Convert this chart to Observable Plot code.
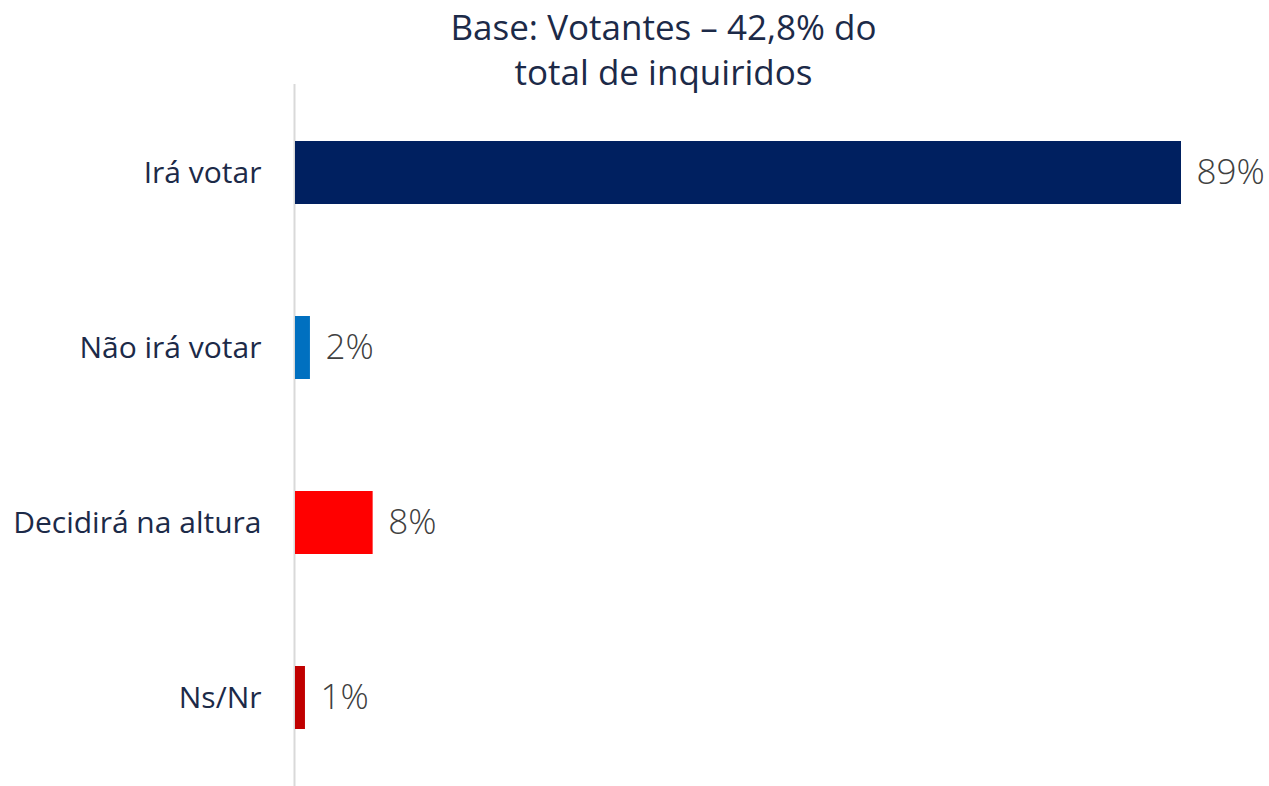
<!DOCTYPE html>
<html>
<head>
<meta charset="utf-8">
<script src="https://cdn.jsdelivr.net/npm/d3@7"></script>
<script src="https://cdn.jsdelivr.net/npm/@observablehq/plot@0.6"></script>
<style>
  html, body { margin: 0; padding: 0; background: #ffffff; }
  #wrap { width: 1269px; height: 786px; overflow: hidden; position: relative; }
  #title {
    height: 84px; width: 1269px; box-sizing: border-box; overflow: visible;
    font-family: "Open Sans", sans-serif; font-size: 35px; line-height: 45px;
    color: #1c2a48; text-align: center; padding-left: 58px; padding-top: 4px;
    position: relative; z-index: 1; white-space: nowrap;
  }
  #title span { display: block; height: 45px; }
  svg { display: block; }
</style>
</head>
<body>
<div id="wrap">
  <div id="title"><span>Base: Votantes – 42,8% do</span><span>total de inquiridos</span></div>
  <div id="chart"></div>
</div>
<script>
const categories = ["Irá votar", "Não irá votar", "Decidirá na altura", "Ns/Nr"];
const values = [89, 1.5, 7.8, 1.0];
const valueLabels = ["89%", "2%", "8%", "1%"];
const colors = ["#002060", "#0070C0", "#FF0000", "#C00000"];

const data = categories.map((c, i) => ({category: c, value: values[i], label: valueLabels[i], color: colors[i]}));

const chart = Plot.plot({
  width: 1269,
  height: 702,
  marginLeft: 295,
  marginRight: 88,
  marginTop: 0,
  marginBottom: 0,
  style: {fontFamily: "'Open Sans', sans-serif", fontSize: "30px", color: "#1c2a48", background: "transparent"},
  x: {domain: [0, 89], axis: null},
  y: {domain: categories, paddingInner: 0.642, paddingOuter: 0.3155, align: 0.5, label: null},
  marks: [
    Plot.ruleX([0], {stroke: "#d9d9d9", strokeWidth: 2, dx: -1}),
    Plot.barX(data, {x: "value", y: "category", fill: "color"}),
    Plot.text(data, {x: "value", y: "category", text: "label", textAnchor: "start", dx: 15, fill: "#404040", fontSize: 35, fontWeight: 300}),
    Plot.axisY({tickSize: 0, tickPadding: 34, fontSize: 30, label: null})
  ]
});
document.getElementById("chart").appendChild(chart);
</script>
</body>
</html>
